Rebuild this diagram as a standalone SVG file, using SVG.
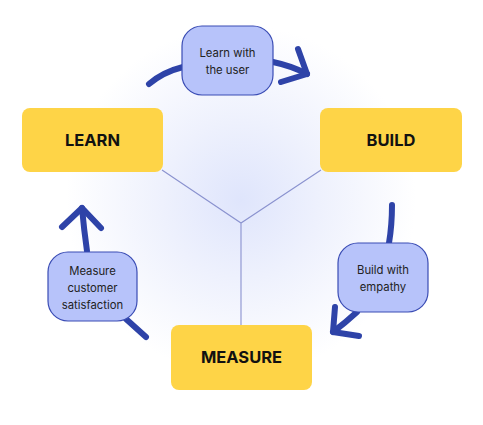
<svg xmlns="http://www.w3.org/2000/svg" width="483" height="425" viewBox="0 0 483 425">
<defs>
<radialGradient id="bg" cx="241" cy="200" r="175" gradientUnits="userSpaceOnUse">
<stop offset="0" stop-color="#dfe5fc"/>
<stop offset="0.45" stop-color="#eef1fd"/>
<stop offset="1" stop-color="#ffffff"/>
</radialGradient>
<style>
.main{fill:#fed447;}
.mt{font-family:Inter,"Noto Sans","Liberation Sans",sans-serif;font-weight:700;font-size:16.5px;fill:#111;text-anchor:middle;}
.bub{fill:#b7c3fa;stroke:#3a4cb4;stroke-width:1.2;}
.bt{font-family:Inter,"Noto Sans","Liberation Sans",sans-serif;font-size:11.3px;fill:#222;text-anchor:middle;}
.arr{fill:none;stroke:#2e43a8;stroke-width:6;stroke-linecap:round;stroke-linejoin:round;}
.spoke{stroke:#8a92cf;stroke-width:1.1;fill:none;}
</style>
</defs>
<rect width="483" height="425" fill="#ffffff"/>
<rect width="483" height="425" fill="url(#bg)"/>
<g id="connectors">
<path class="spoke" d="M162 170 L241 223 L321 170 M241 223 L241 325"/>
<path class="arr" d="M149 84 Q163 72 183 67"/>
<path class="arr" d="M273 62 Q292 66 307 74"/>
<path class="arr" d="M298 49 L307 74 L281 82"/>
<path class="arr" d="M392 205 Q392 225 389 243"/>
<path class="arr" d="M357 312 Q345 323 333 332"/>
<path class="arr" d="M335 307 L333 332 L359 336"/>
<path class="arr" d="M146 337 Q136 328 126 319"/>
<path class="arr" d="M87 251 Q84 230 82 208"/>
<path class="arr" d="M62 227 L82 208 L101 228"/>
</g>
<g id="learn">
<rect class="main" x="22" y="108" width="141" height="64" rx="8"/>
<text class="mt" x="92.5" y="146">LEARN</text>
</g>
<g id="build">
<rect class="main" x="320" y="108" width="142" height="64" rx="8"/>
<text class="mt" x="391" y="146">BUILD</text>
</g>
<g id="measure">
<rect class="main" x="171" y="325" width="141" height="65" rx="8"/>
<text class="mt" x="241.5" y="363">MEASURE</text>
</g>
<g id="learn-with-user">
<rect class="bub" x="182" y="26" width="91" height="69" rx="20"/>
<text class="bt" x="227.5" y="57">Learn with</text>
<text class="bt" x="227.5" y="74">the user</text>
</g>
<g id="build-with-empathy">
<rect class="bub" x="338" y="243" width="90" height="69" rx="20"/>
<text class="bt" x="383" y="274">Build with</text>
<text class="bt" x="383" y="291">empathy</text>
</g>
<g id="measure-satisfaction">
<rect class="bub" x="48" y="252" width="89" height="69" rx="20"/>
<text class="bt" x="92.5" y="275">Measure</text>
<text class="bt" x="92.5" y="292">customer</text>
<text class="bt" x="92.5" y="309">satisfaction</text>
</g>
</svg>
